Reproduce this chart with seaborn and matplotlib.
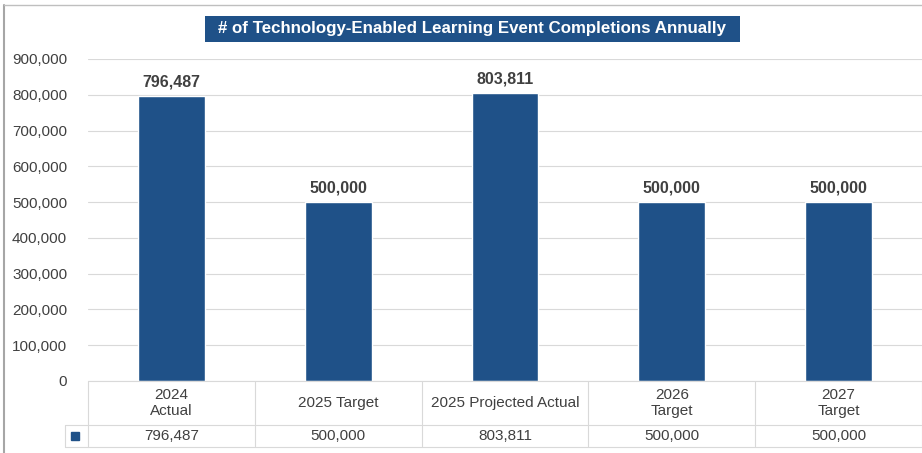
import numpy as np
import pandas as pd
import matplotlib
matplotlib.use("Agg")
import matplotlib.pyplot as plt
import matplotlib.transforms as mtransforms
from matplotlib.patches import Rectangle
import seaborn as sns

# data
categories = ["2024\nActual", "2025 Target", "2025 Projected Actual", "2026\nTarget", "2027\nTarget"]
values = [796487, 500000, 803811, 500000, 500000]
title = "# of Technology-Enabled Learning Event Completions Annually"

bar_color = "#1F5188"
text_color = "#404040"
grid_color = "#D9D9D9"

sns.set_theme(style="white")
plt.rcParams["font.family"] = ["Liberation Sans", "DejaVu Sans"]

df = pd.DataFrame({"category": categories, "value": values})

fig = plt.figure(figsize=(9.22, 4.53), dpi=100)
ax = fig.add_axes([88 / 922, 1 - 381 / 453, 1 - 88 / 922, 322 / 453])

sns.barplot(data=df, x="category", y="value", color=bar_color, width=0.4,
            saturation=1, ax=ax)

ax.set_ylim(0, 900000)
ax.set_xlim(-0.5, len(categories) - 0.5)
ax.set_yticks(np.arange(0, 900001, 100000))
ax.set_yticklabels([f"{v:,.0f}" for v in ax.get_yticks()], fontsize=11, color=text_color)
ax.yaxis.grid(True, color=grid_color, linewidth=0.8)
ax.set_axisbelow(True)
ax.tick_params(axis="y", length=0, pad=15)
ax.set_xticks([])
ax.set_xlabel("")
ax.set_ylabel("")
for s in ax.spines.values():
    s.set_visible(False)

# data labels
for i, v in enumerate(values):
    ax.annotate(f"{v:,}", (i, v), xytext=(0, 5), textcoords="offset points",
                ha="center", va="bottom", fontsize=11.5, fontweight="bold", color=text_color)

# data table under the plot
trans = mtransforms.blended_transform_factory(ax.transData, ax.transAxes)
row1 = -44 / 322
row2 = -66 / 322
n = len(categories)
ax.plot([-0.5, n - 0.5], [0, 0], transform=trans, color=grid_color, lw=0.8, clip_on=False)
ax.plot([-0.5, n - 0.5], [row1, row1], transform=trans, color=grid_color, lw=0.8, clip_on=False)
ax.plot([-0.5, n - 0.5], [row2, row2], transform=trans, color=grid_color, lw=0.8, clip_on=False)
for k in range(n + 1):
    ax.plot([k - 0.5, k - 0.5], [0, row2], transform=trans, color=grid_color, lw=0.8, clip_on=False)
for i, (c, v) in enumerate(zip(categories, values)):
    ax.text(i, row1 / 2, c, transform=trans, ha="center", va="center",
            fontsize=11, color=text_color, linespacing=1.1)
    ax.text(i, (row1 + row2) / 2, f"{v:,}", transform=trans, ha="center", va="center",
            fontsize=11, color=text_color)

# legend key cell
key_left = 65 / 922
fig.add_artist(plt.Line2D([key_left, 88 / 922], [1 - 425 / 453, 1 - 425 / 453],
                          color=grid_color, lw=0.8))
fig.add_artist(plt.Line2D([key_left, 88 / 922], [1 - 447 / 453, 1 - 447 / 453],
                          color=grid_color, lw=0.8))
fig.add_artist(plt.Line2D([key_left, key_left], [1 - 425 / 453, 1 - 447 / 453],
                          color=grid_color, lw=0.8))
fig.add_artist(Rectangle((71 / 922, 1 - 440 / 453), 8 / 922, 8 / 453, color=bar_color))

# title box
fig.add_artist(Rectangle((205 / 922, 1 - 42 / 453), 535 / 922, 26 / 453,
                         facecolor=bar_color, edgecolor="none"))
fig.text(472 / 922, 1 - 29 / 453, title, ha="center", va="center", fontsize=12.2,
         fontweight="bold", color="white")

# outer frame
fig.add_artist(plt.Line2D([4 / 922, 4 / 922], [1 - 5 / 453, 0], color="#A6A6A6", lw=1.5))
fig.add_artist(plt.Line2D([4 / 922, 1], [1 - 5 / 453, 1 - 5 / 453], color="#BFBFBF", lw=1))

fig.savefig("out.png", dpi=100)
